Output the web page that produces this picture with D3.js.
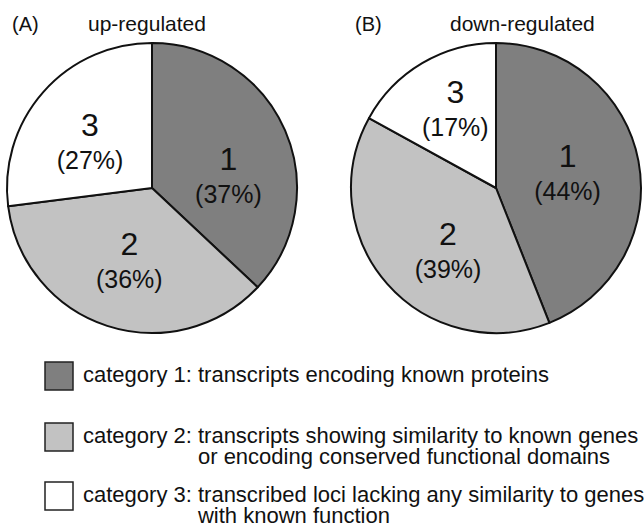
<!DOCTYPE html>
<html>
<head>
<meta charset="utf-8">
<script src="https://cdn.jsdelivr.net/npm/d3@7"></script>
<style>
    body { margin: 0; background: #fff; }
    svg { display: block; font-family: Arial, "Liberation Sans", sans-serif; }
</style>
</head>
<body>
<svg width="644" height="527"></svg>
<script>
// data
var categories = ["1", "2", "3"];
var upValues = [37, 36, 27];
var downValues = [44, 39, 17];
var panelTags = ["(A)", "(B)"];
var panelTitles = ["up-regulated", "down-regulated"];
var legendLines = [
    ["category 1: ", "transcripts encoding known proteins"],
    ["category 2: ", "transcripts showing similarity to known genes", "or encoding conserved functional domains"],
    ["category 3: ", "transcribed loci lacking any similarity to genes", "with known function"]
];

var svg = d3.select("svg");
var color = d3.scaleOrdinal()
    .domain(categories)
    .range(["#7f7f7f", "#c2c2c2", "#ffffff"]);

var radius = 145;
var pie = d3.pie().sort(null).value(function(d) { return d.value; });
var arc = d3.arc().innerRadius(0).outerRadius(radius);
var labelArc = d3.arc().innerRadius(80).outerRadius(80);

// hand nudges so labels sit like the original
var nudges = [
    [[3, 19], [2, -4], [-2, 6]],
    [[-7, -1], [12, 9], [0, -11]]
];

var panels = [
    { cx: 152, cy: 188, values: upValues, tagX: 12, titleX: 88 },
    { cx: 496, cy: 188, values: downValues, tagX: 355, titleX: 450 }
];

panels.forEach(function(p, i) {
    var data = categories.map(function(c, j) { return { cat: c, value: p.values[j] }; });
    var g = svg.append("g").attr("transform", "translate(" + p.cx + "," + p.cy + ")");

    g.selectAll("path")
        .data(pie(data))
        .enter().append("path")
        .attr("d", arc)
        .attr("fill", function(d) { return color(d.data.cat); })
        .attr("stroke", "#111")
        .attr("stroke-width", 2)
        .attr("stroke-linejoin", "round");

    var labels = g.selectAll("g.lab")
        .data(pie(data))
        .enter().append("g")
        .attr("class", "lab")
        .attr("transform", function(d, j) {
            var c = labelArc.centroid(d);
            return "translate(" + (c[0] + nudges[i][j][0]) + "," + (c[1] + nudges[i][j][1]) + ")";
        });

    labels.append("text")
        .attr("text-anchor", "middle")
        .attr("y", -5)
        .attr("font-size", 32)
        .attr("fill", "#111")
        .text(function(d) { return d.data.cat; });

    labels.append("text")
        .attr("text-anchor", "middle")
        .attr("y", 28)
        .attr("font-size", 25)
        .attr("fill", "#111")
        .text(function(d) { return "(" + d.data.value + "%)"; });

    svg.append("text")
        .attr("x", p.tagX).attr("y", 31)
        .attr("font-size", 20)
        .attr("fill", "#111")
        .text(panelTags[i]);

    svg.append("text")
        .attr("x", p.titleX).attr("y", 31)
        .attr("font-size", 21)
        .attr("fill", "#111")
        .text(panelTitles[i]);
});

// legend
var legendTops = [362, 423, 482];
var legend = svg.selectAll("g.legend")
    .data(legendLines)
    .enter().append("g")
    .attr("class", "legend")
    .attr("transform", function(d, i) { return "translate(45," + legendTops[i] + ")"; });

legend.append("rect")
    .attr("width", 28).attr("height", 28)
    .attr("fill", function(d, i) { return color(categories[i]); })
    .attr("stroke", "#222")
    .attr("stroke-width", 1.5);

legend.each(function(d) {
    var row = d3.select(this);
    var first = row.append("text")
        .attr("x", 38).attr("y", 20)
        .attr("font-size", 22)
        .attr("fill", "#111");
    var pre = first.append("tspan").text(d[0]);
    first.append("tspan").text(d[1]);
    if (d.length > 2) {
        var indent = pre.node().getComputedTextLength();
        row.append("text")
            .attr("x", 38 + indent).attr("y", 41)
            .attr("font-size", 22)
            .attr("fill", "#111")
            .text(d[2]);
    }
});
</script>
</body>
</html>
